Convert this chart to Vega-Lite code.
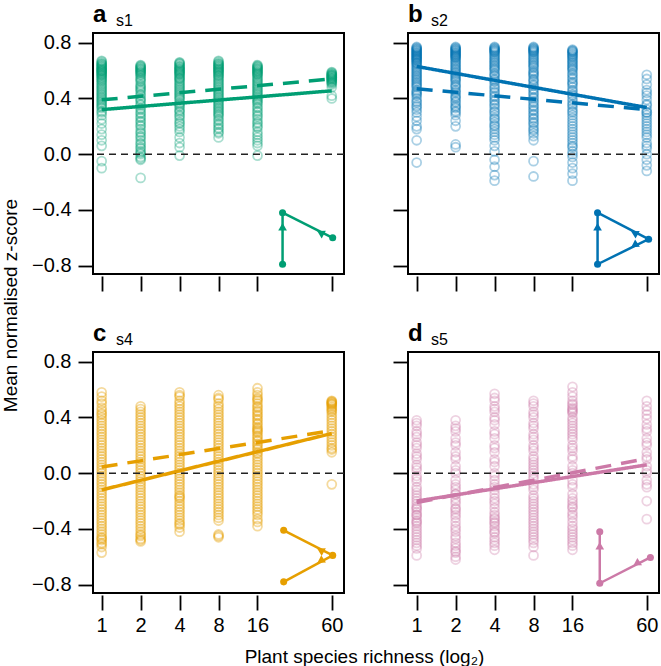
{
"$schema": "https://vega.github.io/schema/vega-lite/v6.json",
"padding": {"left": 0, "top": 2, "right": 0, "bottom": 0},
"background": "white",
"config": {
  "font": "Liberation Sans",
  "view": {"stroke": "#000", "strokeWidth": 2},
  "axis": {"domain": false, "grid": false, "ticks": true, "tickColor": "#000", "tickWidth": 1.8, "tickSize": 15, "labelFont": "Liberation Sans", "labelFontSize": 20, "labelColor": "#000", "titleFont": "Liberation Sans", "titleFontSize": 19, "titleFontWeight": "normal", "titleColor": "#000"},
  "axisX": {"labelPadding": 5, "offset": 2},
  "axisY": {"labelPadding": 7},
  "point": {"strokeWidth": 1.8}
},
"datasets": {
  "a": [
    {"x":1,"y":0.67},{"x":1,"y":0.65},{"x":1,"y":0.64},{"x":1,"y":0.63},{"x":1,"y":0.62},{"x":1,"y":0.61},{"x":1,"y":0.6},{"x":1,"y":0.6},{"x":1,"y":0.59},{"x":1,"y":0.58},{"x":1,"y":0.57},{"x":1,"y":0.56},{"x":1,"y":0.55},{"x":1,"y":0.53},{"x":1,"y":0.52},{"x":1,"y":0.5},{"x":1,"y":0.48},{"x":1,"y":0.46},{"x":1,"y":0.44},{"x":1,"y":0.42},{"x":1,"y":0.4},{"x":1,"y":0.38},{"x":1,"y":0.36},{"x":1,"y":0.34},{"x":1,"y":0.31},{"x":1,"y":0.28},{"x":1,"y":0.25},{"x":1,"y":0.22},{"x":1,"y":0.18},{"x":1,"y":0.14},{"x":1,"y":0.1},{"x":1,"y":0.06},{"x":1,"y":-0.05},{"x":1,"y":-0.1},
    {"x":1,"y":0.665},{"x":1,"y":0.655},{"x":1,"y":0.645},{"x":1,"y":0.635},{"x":1,"y":0.625},{"x":1,"y":0.615},{"x":1,"y":0.605},{"x":1,"y":0.595},{"x":1,"y":0.585},{"x":1,"y":0.575},{"x":1,"y":0.565},{"x":1,"y":0.545},{"x":1,"y":0.535},{"x":1,"y":0.51},{"x":1,"y":0.49},{"x":1,"y":0.47},{"x":1,"y":0.45},{"x":1,"y":0.43},{"x":1,"y":0.41},{"x":1,"y":0.39},{"x":1,"y":0.37},{"x":1,"y":0.35},{"x":1,"y":0.33},{"x":1,"y":0.3},
    {"x":2,"y":0.64},{"x":2,"y":0.63},{"x":2,"y":0.62},{"x":2,"y":0.61},{"x":2,"y":0.6},{"x":2,"y":0.59},{"x":2,"y":0.58},{"x":2,"y":0.57},{"x":2,"y":0.55},{"x":2,"y":0.53},{"x":2,"y":0.5},{"x":2,"y":0.48},{"x":2,"y":0.46},{"x":2,"y":0.43},{"x":2,"y":0.4},{"x":2,"y":0.38},{"x":2,"y":0.35},{"x":2,"y":0.32},{"x":2,"y":0.3},{"x":2,"y":0.27},{"x":2,"y":0.24},{"x":2,"y":0.21},{"x":2,"y":0.18},{"x":2,"y":0.15},{"x":2,"y":0.12},{"x":2,"y":0.1},{"x":2,"y":0.07},{"x":2,"y":0.04},{"x":2,"y":0.02},{"x":2,"y":0.0},{"x":2,"y":-0.02},{"x":2,"y":-0.04},{"x":2,"y":-0.17},
    {"x":2,"y":0.635},{"x":2,"y":0.625},{"x":2,"y":0.615},{"x":2,"y":0.605},{"x":2,"y":0.595},{"x":2,"y":0.585},{"x":2,"y":0.565},{"x":2,"y":0.54},{"x":2,"y":0.52},{"x":2,"y":0.49},{"x":2,"y":0.47},{"x":2,"y":0.45},{"x":2,"y":0.42},{"x":2,"y":0.39},{"x":2,"y":0.36},{"x":2,"y":0.33},{"x":2,"y":0.29},{"x":2,"y":0.26},{"x":2,"y":0.23},{"x":2,"y":0.2},{"x":2,"y":0.16},{"x":2,"y":0.13},{"x":2,"y":0.08},{"x":2,"y":0.05},{"x":2,"y":0.01},{"x":2,"y":-0.03},
    {"x":4,"y":0.66},{"x":4,"y":0.65},{"x":4,"y":0.63},{"x":4,"y":0.62},{"x":4,"y":0.61},{"x":4,"y":0.6},{"x":4,"y":0.59},{"x":4,"y":0.58},{"x":4,"y":0.57},{"x":4,"y":0.55},{"x":4,"y":0.54},{"x":4,"y":0.52},{"x":4,"y":0.5},{"x":4,"y":0.48},{"x":4,"y":0.46},{"x":4,"y":0.44},{"x":4,"y":0.42},{"x":4,"y":0.4},{"x":4,"y":0.37},{"x":4,"y":0.35},{"x":4,"y":0.32},{"x":4,"y":0.3},{"x":4,"y":0.27},{"x":4,"y":0.23},{"x":4,"y":0.2},{"x":4,"y":0.16},{"x":4,"y":0.12},{"x":4,"y":0.08},{"x":4,"y":0.05},{"x":4,"y":-0.01},
    {"x":4,"y":0.655},{"x":4,"y":0.645},{"x":4,"y":0.635},{"x":4,"y":0.625},{"x":4,"y":0.615},{"x":4,"y":0.605},{"x":4,"y":0.595},{"x":4,"y":0.585},{"x":4,"y":0.575},{"x":4,"y":0.56},{"x":4,"y":0.545},{"x":4,"y":0.53},{"x":4,"y":0.51},{"x":4,"y":0.49},{"x":4,"y":0.47},{"x":4,"y":0.45},{"x":4,"y":0.43},{"x":4,"y":0.41},{"x":4,"y":0.39},{"x":4,"y":0.36},{"x":4,"y":0.34},{"x":4,"y":0.31},{"x":4,"y":0.28},{"x":4,"y":0.25},{"x":4,"y":0.22},{"x":4,"y":0.18},
    {"x":8,"y":0.67},{"x":8,"y":0.65},{"x":8,"y":0.64},{"x":8,"y":0.63},{"x":8,"y":0.62},{"x":8,"y":0.61},{"x":8,"y":0.6},{"x":8,"y":0.59},{"x":8,"y":0.58},{"x":8,"y":0.56},{"x":8,"y":0.55},{"x":8,"y":0.53},{"x":8,"y":0.51},{"x":8,"y":0.49},{"x":8,"y":0.47},{"x":8,"y":0.45},{"x":8,"y":0.43},{"x":8,"y":0.41},{"x":8,"y":0.39},{"x":8,"y":0.37},{"x":8,"y":0.35},{"x":8,"y":0.33},{"x":8,"y":0.31},{"x":8,"y":0.29},{"x":8,"y":0.27},{"x":8,"y":0.24},{"x":8,"y":0.21},{"x":8,"y":0.18},{"x":8,"y":0.15},{"x":8,"y":0.12},
    {"x":8,"y":0.665},{"x":8,"y":0.655},{"x":8,"y":0.645},{"x":8,"y":0.635},{"x":8,"y":0.625},{"x":8,"y":0.615},{"x":8,"y":0.605},{"x":8,"y":0.595},{"x":8,"y":0.585},{"x":8,"y":0.57},{"x":8,"y":0.565},{"x":8,"y":0.54},{"x":8,"y":0.52},{"x":8,"y":0.5},{"x":8,"y":0.48},{"x":8,"y":0.46},{"x":8,"y":0.44},{"x":8,"y":0.42},{"x":8,"y":0.4},{"x":8,"y":0.38},{"x":8,"y":0.36},{"x":8,"y":0.34},{"x":8,"y":0.32},{"x":8,"y":0.3},{"x":8,"y":0.28},{"x":8,"y":0.25},{"x":8,"y":0.22},{"x":8,"y":0.19},{"x":8,"y":0.16},
    {"x":16,"y":0.64},{"x":16,"y":0.63},{"x":16,"y":0.62},{"x":16,"y":0.61},{"x":16,"y":0.6},{"x":16,"y":0.59},{"x":16,"y":0.58},{"x":16,"y":0.57},{"x":16,"y":0.55},{"x":16,"y":0.53},{"x":16,"y":0.51},{"x":16,"y":0.49},{"x":16,"y":0.47},{"x":16,"y":0.45},{"x":16,"y":0.43},{"x":16,"y":0.41},{"x":16,"y":0.39},{"x":16,"y":0.37},{"x":16,"y":0.34},{"x":16,"y":0.31},{"x":16,"y":0.28},{"x":16,"y":0.25},{"x":16,"y":0.22},{"x":16,"y":0.19},{"x":16,"y":0.16},{"x":16,"y":0.12},{"x":16,"y":0.08},{"x":16,"y":0.06},{"x":16,"y":-0.01},
    {"x":16,"y":0.635},{"x":16,"y":0.625},{"x":16,"y":0.615},{"x":16,"y":0.605},{"x":16,"y":0.595},{"x":16,"y":0.585},{"x":16,"y":0.575},{"x":16,"y":0.56},{"x":16,"y":0.54},{"x":16,"y":0.52},{"x":16,"y":0.5},{"x":16,"y":0.48},{"x":16,"y":0.46},{"x":16,"y":0.44},{"x":16,"y":0.42},{"x":16,"y":0.4},{"x":16,"y":0.38},{"x":16,"y":0.36},{"x":16,"y":0.33},{"x":16,"y":0.3},{"x":16,"y":0.27},{"x":16,"y":0.23},{"x":16,"y":0.2},{"x":16,"y":0.14},{"x":16,"y":0.1},
    {"x":60,"y":0.59},{"x":60,"y":0.58},{"x":60,"y":0.57},{"x":60,"y":0.57},{"x":60,"y":0.56},{"x":60,"y":0.55},{"x":60,"y":0.55},{"x":60,"y":0.54},{"x":60,"y":0.53},{"x":60,"y":0.52},{"x":60,"y":0.51},{"x":60,"y":0.5},{"x":60,"y":0.48},{"x":60,"y":0.42},{"x":60,"y":0.4},
    {"x":60,"y":0.585},{"x":60,"y":0.575},{"x":60,"y":0.565},{"x":60,"y":0.555},{"x":60,"y":0.545},{"x":60,"y":0.535},{"x":60,"y":0.525},{"x":60,"y":0.515},{"x":60,"y":0.56},{"x":60,"y":0.54}
  ],
  "b": [
    {"x":1,"y":0.77},{"x":1,"y":0.76},{"x":1,"y":0.75},{"x":1,"y":0.74},{"x":1,"y":0.73},{"x":1,"y":0.72},{"x":1,"y":0.71},{"x":1,"y":0.7},{"x":1,"y":0.69},{"x":1,"y":0.68},{"x":1,"y":0.66},{"x":1,"y":0.65},{"x":1,"y":0.63},{"x":1,"y":0.61},{"x":1,"y":0.59},{"x":1,"y":0.57},{"x":1,"y":0.55},{"x":1,"y":0.53},{"x":1,"y":0.5},{"x":1,"y":0.48},{"x":1,"y":0.45},{"x":1,"y":0.43},{"x":1,"y":0.4},{"x":1,"y":0.37},{"x":1,"y":0.34},{"x":1,"y":0.3},{"x":1,"y":0.27},{"x":1,"y":0.24},{"x":1,"y":0.2},{"x":1,"y":0.18},{"x":1,"y":0.1},{"x":1,"y":-0.06},
    {"x":1,"y":0.765},{"x":1,"y":0.755},{"x":1,"y":0.745},{"x":1,"y":0.735},{"x":1,"y":0.725},{"x":1,"y":0.715},{"x":1,"y":0.705},{"x":1,"y":0.695},{"x":1,"y":0.685},{"x":1,"y":0.675},{"x":1,"y":0.67},{"x":1,"y":0.655},{"x":1,"y":0.64},{"x":1,"y":0.62},{"x":1,"y":0.6},{"x":1,"y":0.58},{"x":1,"y":0.56},{"x":1,"y":0.54},{"x":1,"y":0.52},{"x":1,"y":0.51},{"x":1,"y":0.49},{"x":1,"y":0.46},{"x":1,"y":0.44},{"x":1,"y":0.42},{"x":1,"y":0.38},{"x":1,"y":0.35},{"x":1,"y":0.32},
    {"x":2,"y":0.77},{"x":2,"y":0.76},{"x":2,"y":0.75},{"x":2,"y":0.74},{"x":2,"y":0.73},{"x":2,"y":0.72},{"x":2,"y":0.71},{"x":2,"y":0.7},{"x":2,"y":0.69},{"x":2,"y":0.67},{"x":2,"y":0.65},{"x":2,"y":0.63},{"x":2,"y":0.61},{"x":2,"y":0.59},{"x":2,"y":0.57},{"x":2,"y":0.55},{"x":2,"y":0.53},{"x":2,"y":0.5},{"x":2,"y":0.48},{"x":2,"y":0.45},{"x":2,"y":0.42},{"x":2,"y":0.4},{"x":2,"y":0.37},{"x":2,"y":0.34},{"x":2,"y":0.31},{"x":2,"y":0.28},{"x":2,"y":0.24},{"x":2,"y":0.2},{"x":2,"y":0.07},{"x":2,"y":0.05},
    {"x":2,"y":0.765},{"x":2,"y":0.755},{"x":2,"y":0.745},{"x":2,"y":0.735},{"x":2,"y":0.725},{"x":2,"y":0.715},{"x":2,"y":0.705},{"x":2,"y":0.695},{"x":2,"y":0.68},{"x":2,"y":0.66},{"x":2,"y":0.64},{"x":2,"y":0.62},{"x":2,"y":0.6},{"x":2,"y":0.58},{"x":2,"y":0.56},{"x":2,"y":0.54},{"x":2,"y":0.52},{"x":2,"y":0.49},{"x":2,"y":0.46},{"x":2,"y":0.44},{"x":2,"y":0.41},{"x":2,"y":0.38},{"x":2,"y":0.35},{"x":2,"y":0.33},{"x":2,"y":0.3},
    {"x":4,"y":0.77},{"x":4,"y":0.76},{"x":4,"y":0.75},{"x":4,"y":0.74},{"x":4,"y":0.73},{"x":4,"y":0.71},{"x":4,"y":0.69},{"x":4,"y":0.67},{"x":4,"y":0.65},{"x":4,"y":0.63},{"x":4,"y":0.61},{"x":4,"y":0.58},{"x":4,"y":0.56},{"x":4,"y":0.53},{"x":4,"y":0.5},{"x":4,"y":0.47},{"x":4,"y":0.44},{"x":4,"y":0.41},{"x":4,"y":0.38},{"x":4,"y":0.35},{"x":4,"y":0.31},{"x":4,"y":0.28},{"x":4,"y":0.25},{"x":4,"y":0.21},{"x":4,"y":0.18},{"x":4,"y":0.14},{"x":4,"y":0.1},{"x":4,"y":0.06},{"x":4,"y":0.02},{"x":4,"y":-0.04},{"x":4,"y":-0.09},{"x":4,"y":-0.15},{"x":4,"y":-0.19},
    {"x":4,"y":0.765},{"x":4,"y":0.755},{"x":4,"y":0.745},{"x":4,"y":0.735},{"x":4,"y":0.72},{"x":4,"y":0.7},{"x":4,"y":0.68},{"x":4,"y":0.66},{"x":4,"y":0.64},{"x":4,"y":0.62},{"x":4,"y":0.6},{"x":4,"y":0.57},{"x":4,"y":0.54},{"x":4,"y":0.52},{"x":4,"y":0.48},{"x":4,"y":0.45},{"x":4,"y":0.42},{"x":4,"y":0.39},{"x":4,"y":0.36},{"x":4,"y":0.33},{"x":4,"y":0.3},{"x":4,"y":0.26},{"x":4,"y":0.23},{"x":4,"y":0.2},{"x":4,"y":0.16},{"x":4,"y":0.12},
    {"x":8,"y":0.77},{"x":8,"y":0.76},{"x":8,"y":0.75},{"x":8,"y":0.74},{"x":8,"y":0.73},{"x":8,"y":0.71},{"x":8,"y":0.69},{"x":8,"y":0.67},{"x":8,"y":0.65},{"x":8,"y":0.63},{"x":8,"y":0.6},{"x":8,"y":0.58},{"x":8,"y":0.56},{"x":8,"y":0.53},{"x":8,"y":0.5},{"x":8,"y":0.47},{"x":8,"y":0.44},{"x":8,"y":0.41},{"x":8,"y":0.38},{"x":8,"y":0.35},{"x":8,"y":0.32},{"x":8,"y":0.29},{"x":8,"y":0.26},{"x":8,"y":0.23},{"x":8,"y":0.2},{"x":8,"y":0.17},{"x":8,"y":0.13},{"x":8,"y":0.1},{"x":8,"y":-0.05},{"x":8,"y":-0.16},
    {"x":8,"y":0.765},{"x":8,"y":0.755},{"x":8,"y":0.745},{"x":8,"y":0.735},{"x":8,"y":0.72},{"x":8,"y":0.7},{"x":8,"y":0.68},{"x":8,"y":0.66},{"x":8,"y":0.64},{"x":8,"y":0.62},{"x":8,"y":0.59},{"x":8,"y":0.57},{"x":8,"y":0.54},{"x":8,"y":0.52},{"x":8,"y":0.49},{"x":8,"y":0.46},{"x":8,"y":0.43},{"x":8,"y":0.4},{"x":8,"y":0.37},{"x":8,"y":0.34},{"x":8,"y":0.31},{"x":8,"y":0.28},{"x":8,"y":0.25},{"x":8,"y":0.22},{"x":8,"y":0.18},{"x":8,"y":0.15},
    {"x":16,"y":0.75},{"x":16,"y":0.74},{"x":16,"y":0.73},{"x":16,"y":0.72},{"x":16,"y":0.7},{"x":16,"y":0.68},{"x":16,"y":0.66},{"x":16,"y":0.64},{"x":16,"y":0.62},{"x":16,"y":0.6},{"x":16,"y":0.57},{"x":16,"y":0.54},{"x":16,"y":0.51},{"x":16,"y":0.48},{"x":16,"y":0.45},{"x":16,"y":0.42},{"x":16,"y":0.38},{"x":16,"y":0.35},{"x":16,"y":0.31},{"x":16,"y":0.28},{"x":16,"y":0.24},{"x":16,"y":0.2},{"x":16,"y":0.16},{"x":16,"y":0.12},{"x":16,"y":0.08},{"x":16,"y":0.05},{"x":16,"y":0.02},{"x":16,"y":-0.02},{"x":16,"y":-0.06},{"x":16,"y":-0.1},{"x":16,"y":-0.14},{"x":16,"y":-0.19},
    {"x":16,"y":0.745},{"x":16,"y":0.735},{"x":16,"y":0.715},{"x":16,"y":0.705},{"x":16,"y":0.69},{"x":16,"y":0.67},{"x":16,"y":0.65},{"x":16,"y":0.63},{"x":16,"y":0.61},{"x":16,"y":0.58},{"x":16,"y":0.55},{"x":16,"y":0.52},{"x":16,"y":0.5},{"x":16,"y":0.46},{"x":16,"y":0.43},{"x":16,"y":0.4},{"x":16,"y":0.36},{"x":16,"y":0.33},{"x":16,"y":0.3},{"x":16,"y":0.26},{"x":16,"y":0.22},{"x":16,"y":0.18},{"x":16,"y":0.14},{"x":16,"y":0.1},{"x":16,"y":0.06},{"x":16,"y":0.0},
    {"x":60,"y":0.57},{"x":60,"y":0.54},{"x":60,"y":0.5},{"x":60,"y":0.46},{"x":60,"y":0.42},{"x":60,"y":0.39},{"x":60,"y":0.35},{"x":60,"y":0.32},{"x":60,"y":0.3},{"x":60,"y":0.28},{"x":60,"y":0.24},{"x":60,"y":0.22},{"x":60,"y":0.2},{"x":60,"y":0.16},{"x":60,"y":0.12},{"x":60,"y":0.08},{"x":60,"y":0.04},{"x":60,"y":0.0},{"x":60,"y":-0.04},{"x":60,"y":-0.08},{"x":60,"y":-0.12},
    {"x":60,"y":0.44},{"x":60,"y":0.36},{"x":60,"y":0.3},{"x":60,"y":0.26},{"x":60,"y":0.18},{"x":60,"y":0.14},{"x":60,"y":0.06}
  ],
  "c": [
    {"x":1,"y":0.58},{"x":1,"y":0.55},{"x":1,"y":0.5},{"x":1,"y":0.45},{"x":1,"y":0.42},{"x":1,"y":0.4},{"x":1,"y":0.38},{"x":1,"y":0.34},{"x":1,"y":0.3},{"x":1,"y":0.26},{"x":1,"y":0.22},{"x":1,"y":0.18},{"x":1,"y":0.14},{"x":1,"y":0.1},{"x":1,"y":0.06},{"x":1,"y":0.02},{"x":1,"y":-0.02},{"x":1,"y":-0.06},{"x":1,"y":-0.1},{"x":1,"y":-0.14},{"x":1,"y":-0.18},{"x":1,"y":-0.22},{"x":1,"y":-0.26},{"x":1,"y":-0.3},{"x":1,"y":-0.34},{"x":1,"y":-0.38},{"x":1,"y":-0.42},{"x":1,"y":-0.46},{"x":1,"y":-0.48},{"x":1,"y":-0.5},{"x":1,"y":-0.53},{"x":1,"y":-0.57},
    {"x":1,"y":0.52},{"x":1,"y":0.47},{"x":1,"y":0.43},{"x":1,"y":0.36},{"x":1,"y":0.32},{"x":1,"y":0.28},{"x":1,"y":0.24},{"x":1,"y":0.2},{"x":1,"y":0.16},{"x":1,"y":0.12},{"x":1,"y":0.08},{"x":1,"y":0.04},{"x":1,"y":0.0},{"x":1,"y":-0.04},{"x":1,"y":-0.08},{"x":1,"y":-0.12},{"x":1,"y":-0.16},{"x":1,"y":-0.2},{"x":1,"y":-0.24},{"x":1,"y":-0.28},{"x":1,"y":-0.32},{"x":1,"y":-0.36},{"x":1,"y":-0.4},{"x":1,"y":-0.44},{"x":1,"y":-0.47},{"x":1,"y":-0.51},
    {"x":2,"y":0.48},{"x":2,"y":0.44},{"x":2,"y":0.4},{"x":2,"y":0.36},{"x":2,"y":0.32},{"x":2,"y":0.28},{"x":2,"y":0.24},{"x":2,"y":0.2},{"x":2,"y":0.16},{"x":2,"y":0.12},{"x":2,"y":0.1},{"x":2,"y":0.08},{"x":2,"y":0.04},{"x":2,"y":0.0},{"x":2,"y":-0.04},{"x":2,"y":-0.08},{"x":2,"y":-0.12},{"x":2,"y":-0.16},{"x":2,"y":-0.2},{"x":2,"y":-0.22},{"x":2,"y":-0.24},{"x":2,"y":-0.28},{"x":2,"y":-0.32},{"x":2,"y":-0.36},{"x":2,"y":-0.4},{"x":2,"y":-0.44},{"x":2,"y":-0.47},{"x":2,"y":-0.49},
    {"x":2,"y":0.46},{"x":2,"y":0.42},{"x":2,"y":0.38},{"x":2,"y":0.34},{"x":2,"y":0.3},{"x":2,"y":0.26},{"x":2,"y":0.22},{"x":2,"y":0.18},{"x":2,"y":0.14},{"x":2,"y":0.06},{"x":2,"y":0.02},{"x":2,"y":-0.02},{"x":2,"y":-0.06},{"x":2,"y":-0.1},{"x":2,"y":-0.14},{"x":2,"y":-0.18},{"x":2,"y":-0.26},{"x":2,"y":-0.3},{"x":2,"y":-0.34},{"x":2,"y":-0.38},{"x":2,"y":-0.42},{"x":2,"y":-0.45},{"x":2,"y":-0.48},
    {"x":4,"y":0.58},{"x":4,"y":0.55},{"x":4,"y":0.52},{"x":4,"y":0.48},{"x":4,"y":0.44},{"x":4,"y":0.4},{"x":4,"y":0.36},{"x":4,"y":0.32},{"x":4,"y":0.28},{"x":4,"y":0.24},{"x":4,"y":0.2},{"x":4,"y":0.16},{"x":4,"y":0.12},{"x":4,"y":0.08},{"x":4,"y":0.04},{"x":4,"y":0.02},{"x":4,"y":0.0},{"x":4,"y":-0.04},{"x":4,"y":-0.08},{"x":4,"y":-0.12},{"x":4,"y":-0.16},{"x":4,"y":-0.17},{"x":4,"y":-0.2},{"x":4,"y":-0.24},{"x":4,"y":-0.28},{"x":4,"y":-0.32},{"x":4,"y":-0.36},{"x":4,"y":-0.39},{"x":4,"y":-0.42},
    {"x":4,"y":0.56},{"x":4,"y":0.5},{"x":4,"y":0.46},{"x":4,"y":0.42},{"x":4,"y":0.38},{"x":4,"y":0.34},{"x":4,"y":0.3},{"x":4,"y":0.26},{"x":4,"y":0.22},{"x":4,"y":0.18},{"x":4,"y":0.14},{"x":4,"y":0.1},{"x":4,"y":0.06},{"x":4,"y":-0.02},{"x":4,"y":-0.06},{"x":4,"y":-0.1},{"x":4,"y":-0.14},{"x":4,"y":-0.18},{"x":4,"y":-0.22},{"x":4,"y":-0.26},{"x":4,"y":-0.3},{"x":4,"y":-0.34},{"x":4,"y":-0.37},
    {"x":8,"y":0.56},{"x":8,"y":0.53},{"x":8,"y":0.5},{"x":8,"y":0.46},{"x":8,"y":0.42},{"x":8,"y":0.38},{"x":8,"y":0.34},{"x":8,"y":0.3},{"x":8,"y":0.26},{"x":8,"y":0.22},{"x":8,"y":0.18},{"x":8,"y":0.14},{"x":8,"y":0.1},{"x":8,"y":0.08},{"x":8,"y":0.06},{"x":8,"y":0.02},{"x":8,"y":-0.02},{"x":8,"y":-0.06},{"x":8,"y":-0.1},{"x":8,"y":-0.14},{"x":8,"y":-0.18},{"x":8,"y":-0.2},{"x":8,"y":-0.22},{"x":8,"y":-0.26},{"x":8,"y":-0.3},{"x":8,"y":-0.34},{"x":8,"y":-0.44},{"x":8,"y":-0.46},
    {"x":8,"y":0.54},{"x":8,"y":0.48},{"x":8,"y":0.44},{"x":8,"y":0.4},{"x":8,"y":0.36},{"x":8,"y":0.32},{"x":8,"y":0.28},{"x":8,"y":0.24},{"x":8,"y":0.2},{"x":8,"y":0.16},{"x":8,"y":0.12},{"x":8,"y":0.04},{"x":8,"y":0.0},{"x":8,"y":-0.04},{"x":8,"y":-0.08},{"x":8,"y":-0.12},{"x":8,"y":-0.16},{"x":8,"y":-0.24},{"x":8,"y":-0.28},{"x":8,"y":-0.32},{"x":8,"y":-0.45},
    {"x":16,"y":0.61},{"x":16,"y":0.56},{"x":16,"y":0.53},{"x":16,"y":0.52},{"x":16,"y":0.5},{"x":16,"y":0.47},{"x":16,"y":0.44},{"x":16,"y":0.41},{"x":16,"y":0.38},{"x":16,"y":0.35},{"x":16,"y":0.32},{"x":16,"y":0.3},{"x":16,"y":0.29},{"x":16,"y":0.26},{"x":16,"y":0.23},{"x":16,"y":0.2},{"x":16,"y":0.17},{"x":16,"y":0.14},{"x":16,"y":0.1},{"x":16,"y":0.06},{"x":16,"y":0.02},{"x":16,"y":-0.02},{"x":16,"y":-0.06},{"x":16,"y":-0.1},{"x":16,"y":-0.14},{"x":16,"y":-0.18},{"x":16,"y":-0.22},{"x":16,"y":-0.26},{"x":16,"y":-0.3},{"x":16,"y":-0.35},{"x":16,"y":-0.38},
    {"x":16,"y":0.58},{"x":16,"y":0.54},{"x":16,"y":0.48},{"x":16,"y":0.45},{"x":16,"y":0.42},{"x":16,"y":0.39},{"x":16,"y":0.36},{"x":16,"y":0.33},{"x":16,"y":0.31},{"x":16,"y":0.27},{"x":16,"y":0.24},{"x":16,"y":0.21},{"x":16,"y":0.18},{"x":16,"y":0.15},{"x":16,"y":0.12},{"x":16,"y":0.08},{"x":16,"y":0.04},{"x":16,"y":0.0},{"x":16,"y":-0.04},{"x":16,"y":-0.08},{"x":16,"y":-0.12},{"x":16,"y":-0.16},{"x":16,"y":-0.2},{"x":16,"y":-0.24},{"x":16,"y":-0.28},{"x":16,"y":-0.33},
    {"x":60,"y":0.52},{"x":60,"y":0.51},{"x":60,"y":0.5},{"x":60,"y":0.49},{"x":60,"y":0.47},{"x":60,"y":0.45},{"x":60,"y":0.42},{"x":60,"y":0.38},{"x":60,"y":0.34},{"x":60,"y":0.3},{"x":60,"y":0.26},{"x":60,"y":0.22},{"x":60,"y":0.2},{"x":60,"y":0.17},{"x":60,"y":0.15},{"x":60,"y":-0.08},
    {"x":60,"y":0.515},{"x":60,"y":0.505},{"x":60,"y":0.495},{"x":60,"y":0.48},{"x":60,"y":0.46},{"x":60,"y":0.44},{"x":60,"y":0.4},{"x":60,"y":0.36},{"x":60,"y":0.32},{"x":60,"y":0.28},{"x":60,"y":0.24},{"x":60,"y":0.18}
  ],
  "d": [
    {"x":1,"y":0.38},{"x":1,"y":0.34},{"x":1,"y":0.3},{"x":1,"y":0.26},{"x":1,"y":0.22},{"x":1,"y":0.18},{"x":1,"y":0.14},{"x":1,"y":0.1},{"x":1,"y":0.06},{"x":1,"y":0.02},{"x":1,"y":-0.02},{"x":1,"y":-0.06},{"x":1,"y":-0.1},{"x":1,"y":-0.14},{"x":1,"y":-0.18},{"x":1,"y":-0.2},{"x":1,"y":-0.22},{"x":1,"y":-0.25},{"x":1,"y":-0.26},{"x":1,"y":-0.3},{"x":1,"y":-0.3},{"x":1,"y":-0.34},{"x":1,"y":-0.35},{"x":1,"y":-0.38},{"x":1,"y":-0.42},{"x":1,"y":-0.46},{"x":1,"y":-0.5},{"x":1,"y":-0.54},{"x":1,"y":-0.59},
    {"x":1,"y":0.36},{"x":1,"y":0.28},{"x":1,"y":0.2},{"x":1,"y":0.12},{"x":1,"y":0.04},{"x":1,"y":-0.04},{"x":1,"y":-0.12},{"x":1,"y":-0.16},{"x":1,"y":-0.24},{"x":1,"y":-0.28},{"x":1,"y":-0.32},{"x":1,"y":-0.36},{"x":1,"y":-0.4},{"x":1,"y":-0.44},{"x":1,"y":-0.48},{"x":1,"y":-0.52},
    {"x":2,"y":0.38},{"x":2,"y":0.34},{"x":2,"y":0.3},{"x":2,"y":0.25},{"x":2,"y":0.2},{"x":2,"y":0.15},{"x":2,"y":0.1},{"x":2,"y":0.05},{"x":2,"y":0.0},{"x":2,"y":-0.05},{"x":2,"y":-0.1},{"x":2,"y":-0.15},{"x":2,"y":-0.15},{"x":2,"y":-0.2},{"x":2,"y":-0.25},{"x":2,"y":-0.28},{"x":2,"y":-0.3},{"x":2,"y":-0.35},{"x":2,"y":-0.4},{"x":2,"y":-0.45},{"x":2,"y":-0.5},{"x":2,"y":-0.54},{"x":2,"y":-0.57},{"x":2,"y":-0.6},{"x":2,"y":-0.62},
    {"x":2,"y":0.32},{"x":2,"y":0.22},{"x":2,"y":0.12},{"x":2,"y":0.02},{"x":2,"y":-0.08},{"x":2,"y":-0.12},{"x":2,"y":-0.18},{"x":2,"y":-0.22},{"x":2,"y":-0.26},{"x":2,"y":-0.32},{"x":2,"y":-0.38},{"x":2,"y":-0.42},{"x":2,"y":-0.47},{"x":2,"y":-0.52},{"x":2,"y":-0.56},
    {"x":4,"y":0.57},{"x":4,"y":0.52},{"x":4,"y":0.48},{"x":4,"y":0.44},{"x":4,"y":0.4},{"x":4,"y":0.35},{"x":4,"y":0.3},{"x":4,"y":0.25},{"x":4,"y":0.2},{"x":4,"y":0.15},{"x":4,"y":0.1},{"x":4,"y":0.05},{"x":4,"y":0.0},{"x":4,"y":-0.05},{"x":4,"y":-0.1},{"x":4,"y":-0.12},{"x":4,"y":-0.15},{"x":4,"y":-0.2},{"x":4,"y":-0.25},{"x":4,"y":-0.3},{"x":4,"y":-0.33},{"x":4,"y":-0.35},{"x":4,"y":-0.38},{"x":4,"y":-0.4},{"x":4,"y":-0.43},{"x":4,"y":-0.46},{"x":4,"y":-0.5},{"x":4,"y":-0.55},
    {"x":4,"y":0.54},{"x":4,"y":0.46},{"x":4,"y":0.38},{"x":4,"y":0.28},{"x":4,"y":0.18},{"x":4,"y":0.08},{"x":4,"y":-0.02},{"x":4,"y":-0.08},{"x":4,"y":-0.18},{"x":4,"y":-0.22},{"x":4,"y":-0.28},{"x":4,"y":-0.32},{"x":4,"y":-0.36},{"x":4,"y":-0.42},{"x":4,"y":-0.48},{"x":4,"y":-0.52},
    {"x":8,"y":0.52},{"x":8,"y":0.48},{"x":8,"y":0.44},{"x":8,"y":0.4},{"x":8,"y":0.36},{"x":8,"y":0.32},{"x":8,"y":0.28},{"x":8,"y":0.24},{"x":8,"y":0.2},{"x":8,"y":0.16},{"x":8,"y":0.12},{"x":8,"y":0.08},{"x":8,"y":0.04},{"x":8,"y":0.02},{"x":8,"y":0.0},{"x":8,"y":-0.04},{"x":8,"y":-0.08},{"x":8,"y":-0.12},{"x":8,"y":-0.16},{"x":8,"y":-0.2},{"x":8,"y":-0.24},{"x":8,"y":-0.28},{"x":8,"y":-0.32},{"x":8,"y":-0.36},{"x":8,"y":-0.4},{"x":8,"y":-0.44},{"x":8,"y":-0.48},{"x":8,"y":-0.53},{"x":8,"y":-0.59},
    {"x":8,"y":0.5},{"x":8,"y":0.42},{"x":8,"y":0.34},{"x":8,"y":0.26},{"x":8,"y":0.18},{"x":8,"y":0.1},{"x":8,"y":0.06},{"x":8,"y":-0.02},{"x":8,"y":-0.1},{"x":8,"y":-0.18},{"x":8,"y":-0.22},{"x":8,"y":-0.26},{"x":8,"y":-0.3},{"x":8,"y":-0.34},{"x":8,"y":-0.38},{"x":8,"y":-0.42},{"x":8,"y":-0.46},{"x":8,"y":-0.5},
    {"x":16,"y":0.62},{"x":16,"y":0.55},{"x":16,"y":0.52},{"x":16,"y":0.49},{"x":16,"y":0.46},{"x":16,"y":0.45},{"x":16,"y":0.43},{"x":16,"y":0.4},{"x":16,"y":0.36},{"x":16,"y":0.32},{"x":16,"y":0.28},{"x":16,"y":0.24},{"x":16,"y":0.2},{"x":16,"y":0.16},{"x":16,"y":0.1},{"x":16,"y":0.05},{"x":16,"y":0.0},{"x":16,"y":-0.05},{"x":16,"y":-0.1},{"x":16,"y":-0.15},{"x":16,"y":-0.2},{"x":16,"y":-0.22},{"x":16,"y":-0.25},{"x":16,"y":-0.3},{"x":16,"y":-0.35},{"x":16,"y":-0.38},{"x":16,"y":-0.42},{"x":16,"y":-0.46},{"x":16,"y":-0.5},{"x":16,"y":-0.55},
    {"x":16,"y":0.58},{"x":16,"y":0.5},{"x":16,"y":0.47},{"x":16,"y":0.44},{"x":16,"y":0.38},{"x":16,"y":0.34},{"x":16,"y":0.3},{"x":16,"y":0.26},{"x":16,"y":0.18},{"x":16,"y":0.12},{"x":16,"y":0.02},{"x":16,"y":-0.08},{"x":16,"y":-0.18},{"x":16,"y":-0.24},{"x":16,"y":-0.28},{"x":16,"y":-0.32},{"x":16,"y":-0.4},{"x":16,"y":-0.44},{"x":16,"y":-0.48},{"x":16,"y":-0.52},
    {"x":60,"y":0.52},{"x":60,"y":0.45},{"x":60,"y":0.39},{"x":60,"y":0.35},{"x":60,"y":0.3},{"x":60,"y":0.25},{"x":60,"y":0.2},{"x":60,"y":0.15},{"x":60,"y":0.1},{"x":60,"y":0.05},{"x":60,"y":0.0},{"x":60,"y":-0.05},{"x":60,"y":-0.1},{"x":60,"y":-0.2},{"x":60,"y":-0.33},
    {"x":60,"y":0.48},{"x":60,"y":0.42},{"x":60,"y":0.32},{"x":60,"y":0.22},{"x":60,"y":0.12},{"x":60,"y":0.02},{"x":60,"y":-0.08}
  ],
  "ref": [{"z": 0}],
  "fits": [
    {"p":"a","fit":"solid","x":1,"y":0.32},{"p":"a","fit":"solid","x":60,"y":0.455},
    {"p":"a","fit":"dashed","x":1,"y":0.39},{"p":"a","fit":"dashed","x":60,"y":0.54},
    {"p":"b","fit":"solid","x":1,"y":0.63},{"p":"b","fit":"solid","x":60,"y":0.335},
    {"p":"b","fit":"dashed","x":1,"y":0.47},{"p":"b","fit":"dashed","x":60,"y":0.32},
    {"p":"c","fit":"solid","x":1,"y":-0.12},{"p":"c","fit":"solid","x":60,"y":0.285},
    {"p":"c","fit":"dashed","x":1,"y":0.045},{"p":"c","fit":"dashed","x":60,"y":0.305},
    {"p":"d","fit":"solid","x":1,"y":-0.2},{"p":"d","fit":"solid","x":60,"y":0.06},
    {"p":"d","fit":"dashed","x":1,"y":-0.21},{"p":"d","fit":"dashed","x":60,"y":0.105}
  ],
  "nodes": [
    {"p":"a","x":25,"y":-0.42},{"p":"a","x":25,"y":-0.79},{"p":"a","x":61,"y":-0.6},
    {"p":"b","x":25,"y":-0.42},{"p":"b","x":25,"y":-0.79},{"p":"b","x":62,"y":-0.61},
    {"p":"c","x":25.5,"y":-0.41},{"p":"c","x":25.5,"y":-0.78},{"p":"c","x":61,"y":-0.59},
    {"p":"d","x":26,"y":-0.42},{"p":"d","x":26,"y":-0.79},{"p":"d","x":64,"y":-0.605}
  ],
  "edges": [
    {"p":"a","x":25,"y":-0.79,"x2":25,"y2":-0.42},{"p":"a","x":25,"y":-0.42,"x2":61,"y2":-0.6},
    {"p":"b","x":25,"y":-0.79,"x2":25,"y2":-0.42},{"p":"b","x":25,"y":-0.42,"x2":62,"y2":-0.61},{"p":"b","x":25,"y":-0.79,"x2":62,"y2":-0.61},
    {"p":"c","x":25.5,"y":-0.41,"x2":61,"y2":-0.59},{"p":"c","x":25.5,"y":-0.78,"x2":61,"y2":-0.59},
    {"p":"d","x":26,"y":-0.79,"x2":26,"y2":-0.42},{"p":"d","x":26,"y":-0.79,"x2":64,"y2":-0.605}
  ],
  "arrows": [
    {"p":"a","dir":"up","x":25,"y":-0.52},{"p":"a","dir":"down-right","x":51,"y":-0.564},
    {"p":"b","dir":"up","x":25,"y":-0.52},{"p":"b","dir":"down-right","x":50,"y":-0.565},{"p":"b","dir":"up-right","x":50,"y":-0.653},
    {"p":"c","dir":"down-right","x":51,"y":-0.553},{"p":"c","dir":"up-right","x":51,"y":-0.629},
    {"p":"d","dir":"up","x":26,"y":-0.52},{"p":"d","dir":"up-right","x":52,"y":-0.648}
  ],
  "labels": [
    {"p":"a","letter":"a","name":"s1"},{"p":"b","letter":"b","name":"s2"},{"p":"c","letter":"c","name":"s4"},{"p":"d","letter":"d","name":"s5"}
  ]
},
"columns": 2,
"spacing": {"row": 78, "column": 64},
"bounds": "flush",
"concat": [
  {"width": 251, "height": 241, "layer": [
    {"data":{"name":"a"},"mark":{"type":"point","shape":"circle","filled":false,"color":"#009E73","size":80,"strokeWidth":1.8,"opacity":0.33},
     "encoding":{"x":{"field":"x","type":"quantitative","scale":{"type":"log","base":2,"domain":[0.857,74.6],"nice":false},"axis":{"values":[1,2,4,8,16,60],"labels":false,"title":null}},
                 "y":{"field":"y","type":"quantitative","scale":{"domain":[-0.86,0.87],"nice":false,"zero":false},"axis":{"values":[-0.8,-0.4,0,0.4,0.8],"format":".1f","title":"Mean normalised z-score","titleX":-77,"titleY":272,"titleBaseline":"alphabetic","titleAlign":"center"}}}},
    {"data":{"name":"ref"},"mark":{"type":"rule","color":"#222","strokeDash":[7,5],"strokeWidth":1.5},"encoding":{"y":{"field":"z","type":"quantitative"}}},
    {"data":{"name":"fits"},"transform":[{"filter":"datum.p==='a'"}],"mark":{"type":"line","color":"#009E73","strokeWidth":3.5},"encoding":{"x":{"field":"x","type":"quantitative"},"y":{"field":"y","type":"quantitative"},"strokeDash":{"field":"fit","type":"nominal","scale":{"domain":["solid","dashed"],"range":[[1,0],[16,10]]},"legend":null}}},
    {"data":{"name":"edges"},"transform":[{"filter":"datum.p==='a'"}],"mark":{"type":"rule","color":"#009E73","strokeWidth":2.5},"encoding":{"x":{"field":"x","type":"quantitative"},"y":{"field":"y","type":"quantitative"},"x2":{"field":"x2"},"y2":{"field":"y2"}}},
    {"data":{"name":"nodes"},"transform":[{"filter":"datum.p==='a'"}],"mark":{"type":"point","shape":"circle","filled":true,"color":"#009E73","size":50,"opacity":1},"encoding":{"x":{"field":"x","type":"quantitative"},"y":{"field":"y","type":"quantitative"}}},
    {"data":{"name":"arrows"},"transform":[{"filter":"datum.p==='a'"}],"mark":{"type":"point","shape":"triangle-up","filled":true,"color":"#009E73","size":75,"opacity":1},"encoding":{"x":{"field":"x","type":"quantitative"},"y":{"field":"y","type":"quantitative"},"angle":{"field":"dir","type":"nominal","scale":{"domain":["up","down-right","up-right"],"range":[0,117,63]},"legend":null}}},
    {"data":{"name":"labels"},"transform":[{"filter":"datum.p==='a'"}],"mark":{"type":"text","fontWeight":"bold","fontSize":24,"align":"left","baseline":"alphabetic","dy":-11,"color":"#000"},"encoding":{"x":{"datum":0.857},"y":{"datum":0.87},"text":{"field":"letter"}}},
    {"data":{"name":"labels"},"transform":[{"filter":"datum.p==='a'"}],"mark":{"type":"text","fontSize":16,"align":"left","baseline":"alphabetic","dx":23,"dy":-7,"color":"#000"},"encoding":{"x":{"datum":0.857},"y":{"datum":0.87},"text":{"field":"name"}}}
  ]},
  {"width": 251, "height": 241, "layer": [
    {"data":{"name":"b"},"mark":{"type":"point","shape":"circle","filled":false,"color":"#0072B2","size":80,"strokeWidth":1.8,"opacity":0.33},
     "encoding":{"x":{"field":"x","type":"quantitative","scale":{"type":"log","base":2,"domain":[0.857,74.6],"nice":false},"axis":{"values":[1,2,4,8,16,60],"labels":false,"title":null}},
                 "y":{"field":"y","type":"quantitative","scale":{"domain":[-0.86,0.87],"nice":false,"zero":false},"axis":{"values":[-0.8,-0.4,0,0.4,0.8],"labels":false,"title":null}}}},
    {"data":{"name":"ref"},"mark":{"type":"rule","color":"#222","strokeDash":[7,5],"strokeWidth":1.5},"encoding":{"y":{"field":"z","type":"quantitative"}}},
    {"data":{"name":"fits"},"transform":[{"filter":"datum.p==='b'"}],"mark":{"type":"line","color":"#0072B2","strokeWidth":3.5},"encoding":{"x":{"field":"x","type":"quantitative"},"y":{"field":"y","type":"quantitative"},"strokeDash":{"field":"fit","type":"nominal","scale":{"domain":["solid","dashed"],"range":[[1,0],[16,10]]},"legend":null}}},
    {"data":{"name":"edges"},"transform":[{"filter":"datum.p==='b'"}],"mark":{"type":"rule","color":"#0072B2","strokeWidth":2.5},"encoding":{"x":{"field":"x","type":"quantitative"},"y":{"field":"y","type":"quantitative"},"x2":{"field":"x2"},"y2":{"field":"y2"}}},
    {"data":{"name":"nodes"},"transform":[{"filter":"datum.p==='b'"}],"mark":{"type":"point","shape":"circle","filled":true,"color":"#0072B2","size":50,"opacity":1},"encoding":{"x":{"field":"x","type":"quantitative"},"y":{"field":"y","type":"quantitative"}}},
    {"data":{"name":"arrows"},"transform":[{"filter":"datum.p==='b'"}],"mark":{"type":"point","shape":"triangle-up","filled":true,"color":"#0072B2","size":75,"opacity":1},"encoding":{"x":{"field":"x","type":"quantitative"},"y":{"field":"y","type":"quantitative"},"angle":{"field":"dir","type":"nominal","scale":{"domain":["up","down-right","up-right"],"range":[0,117,63]},"legend":null}}},
    {"data":{"name":"labels"},"transform":[{"filter":"datum.p==='b'"}],"mark":{"type":"text","fontWeight":"bold","fontSize":24,"align":"left","baseline":"alphabetic","dy":-11,"color":"#000"},"encoding":{"x":{"datum":0.857},"y":{"datum":0.87},"text":{"field":"letter"}}},
    {"data":{"name":"labels"},"transform":[{"filter":"datum.p==='b'"}],"mark":{"type":"text","fontSize":16,"align":"left","baseline":"alphabetic","dx":23,"dy":-7,"color":"#000"},"encoding":{"x":{"datum":0.857},"y":{"datum":0.87},"text":{"field":"name"}}}
  ]},
  {"width": 251, "height": 241, "layer": [
    {"data":{"name":"c"},"mark":{"type":"point","shape":"circle","filled":false,"color":"#E69F00","size":80,"strokeWidth":1.8,"opacity":0.38},
     "encoding":{"x":{"field":"x","type":"quantitative","scale":{"type":"log","base":2,"domain":[0.857,74.6],"nice":false},"axis":{"values":[1,2,4,8,16,60],"format":"d","title":"Plant species richness (log₂)","titleX":271,"titleY":67,"titleBaseline":"alphabetic","titleAlign":"center"}},
                 "y":{"field":"y","type":"quantitative","scale":{"domain":[-0.86,0.87],"nice":false,"zero":false},"axis":{"values":[-0.8,-0.4,0,0.4,0.8],"format":".1f","title":null}}}},
    {"data":{"name":"ref"},"mark":{"type":"rule","color":"#222","strokeDash":[7,5],"strokeWidth":1.5},"encoding":{"y":{"field":"z","type":"quantitative"}}},
    {"data":{"name":"fits"},"transform":[{"filter":"datum.p==='c'"}],"mark":{"type":"line","color":"#E69F00","strokeWidth":3.5},"encoding":{"x":{"field":"x","type":"quantitative"},"y":{"field":"y","type":"quantitative"},"strokeDash":{"field":"fit","type":"nominal","scale":{"domain":["solid","dashed"],"range":[[1,0],[16,10]]},"legend":null}}},
    {"data":{"name":"edges"},"transform":[{"filter":"datum.p==='c'"}],"mark":{"type":"rule","color":"#E69F00","strokeWidth":2.5},"encoding":{"x":{"field":"x","type":"quantitative"},"y":{"field":"y","type":"quantitative"},"x2":{"field":"x2"},"y2":{"field":"y2"}}},
    {"data":{"name":"nodes"},"transform":[{"filter":"datum.p==='c'"}],"mark":{"type":"point","shape":"circle","filled":true,"color":"#E69F00","size":50,"opacity":1},"encoding":{"x":{"field":"x","type":"quantitative"},"y":{"field":"y","type":"quantitative"}}},
    {"data":{"name":"arrows"},"transform":[{"filter":"datum.p==='c'"}],"mark":{"type":"point","shape":"triangle-up","filled":true,"color":"#E69F00","size":75,"opacity":1},"encoding":{"x":{"field":"x","type":"quantitative"},"y":{"field":"y","type":"quantitative"},"angle":{"field":"dir","type":"nominal","scale":{"domain":["up","down-right","up-right"],"range":[0,117,63]},"legend":null}}},
    {"data":{"name":"labels"},"transform":[{"filter":"datum.p==='c'"}],"mark":{"type":"text","fontWeight":"bold","fontSize":24,"align":"left","baseline":"alphabetic","dy":-11,"color":"#000"},"encoding":{"x":{"datum":0.857},"y":{"datum":0.87},"text":{"field":"letter"}}},
    {"data":{"name":"labels"},"transform":[{"filter":"datum.p==='c'"}],"mark":{"type":"text","fontSize":16,"align":"left","baseline":"alphabetic","dx":23,"dy":-7,"color":"#000"},"encoding":{"x":{"datum":0.857},"y":{"datum":0.87},"text":{"field":"name"}}}
  ]},
  {"width": 251, "height": 241, "layer": [
    {"data":{"name":"d"},"mark":{"type":"point","shape":"circle","filled":false,"color":"#CC79A7","size":80,"strokeWidth":1.8,"opacity":0.33},
     "encoding":{"x":{"field":"x","type":"quantitative","scale":{"type":"log","base":2,"domain":[0.857,74.6],"nice":false},"axis":{"values":[1,2,4,8,16,60],"format":"d","title":null}},
                 "y":{"field":"y","type":"quantitative","scale":{"domain":[-0.86,0.87],"nice":false,"zero":false},"axis":{"values":[-0.8,-0.4,0,0.4,0.8],"labels":false,"title":null}}}},
    {"data":{"name":"ref"},"mark":{"type":"rule","color":"#222","strokeDash":[7,5],"strokeWidth":1.5},"encoding":{"y":{"field":"z","type":"quantitative"}}},
    {"data":{"name":"fits"},"transform":[{"filter":"datum.p==='d'"}],"mark":{"type":"line","color":"#CC79A7","strokeWidth":3.5},"encoding":{"x":{"field":"x","type":"quantitative"},"y":{"field":"y","type":"quantitative"},"strokeDash":{"field":"fit","type":"nominal","scale":{"domain":["solid","dashed"],"range":[[1,0],[16,10]]},"legend":null}}},
    {"data":{"name":"edges"},"transform":[{"filter":"datum.p==='d'"}],"mark":{"type":"rule","color":"#CC79A7","strokeWidth":2.5},"encoding":{"x":{"field":"x","type":"quantitative"},"y":{"field":"y","type":"quantitative"},"x2":{"field":"x2"},"y2":{"field":"y2"}}},
    {"data":{"name":"nodes"},"transform":[{"filter":"datum.p==='d'"}],"mark":{"type":"point","shape":"circle","filled":true,"color":"#CC79A7","size":50,"opacity":1},"encoding":{"x":{"field":"x","type":"quantitative"},"y":{"field":"y","type":"quantitative"}}},
    {"data":{"name":"arrows"},"transform":[{"filter":"datum.p==='d'"}],"mark":{"type":"point","shape":"triangle-up","filled":true,"color":"#CC79A7","size":75,"opacity":1},"encoding":{"x":{"field":"x","type":"quantitative"},"y":{"field":"y","type":"quantitative"},"angle":{"field":"dir","type":"nominal","scale":{"domain":["up","down-right","up-right"],"range":[0,117,63]},"legend":null}}},
    {"data":{"name":"labels"},"transform":[{"filter":"datum.p==='d'"}],"mark":{"type":"text","fontWeight":"bold","fontSize":24,"align":"left","baseline":"alphabetic","dy":-11,"color":"#000"},"encoding":{"x":{"datum":0.857},"y":{"datum":0.87},"text":{"field":"letter"}}},
    {"data":{"name":"labels"},"transform":[{"filter":"datum.p==='d'"}],"mark":{"type":"text","fontSize":16,"align":"left","baseline":"alphabetic","dx":23,"dy":-7,"color":"#000"},"encoding":{"x":{"datum":0.857},"y":{"datum":0.87},"text":{"field":"name"}}}
  ]}
]
}
